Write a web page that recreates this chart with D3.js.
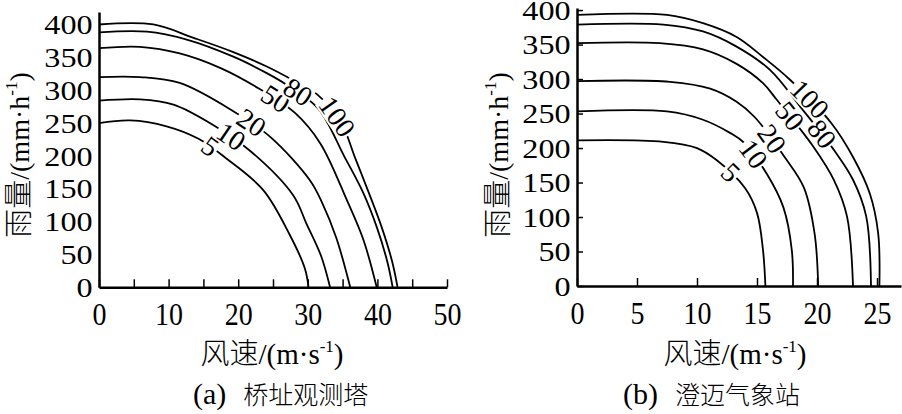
<!DOCTYPE html>
<html>
<head>
<meta charset="utf-8">
<script src="https://cdn.jsdelivr.net/npm/d3@7"></script>
<style>
	body { margin: 0; background: #fff; }
	svg { display: block; }
	text { fill: #000; }
	.num { font-family: "Liberation Serif", "Times New Roman", serif; }
	.cjk { font-family: "Noto Sans CJK SC", sans-serif; font-weight: 300; }
</style>
</head>
<body>
<div id="chartDiv"></div>
<script>
;(function() {

	var width = 902;
	var height = 414;

	// return periods (years)
	var periods = [5, 10, 20, 50, 80, 100];

	// (a) bridge site tower: [wind speed m/s, rain mm/h]
	var tower5 = [[0, 250], [4.5, 254], [9.7, 245], [14.3, 226], [18.3, 196], [23.6, 148], [27.4, 80], [29.6, 28], [30.1, 0]];
	var tower10 = [[0, 284], [5.9, 286], [10.7, 278], [16.4, 247], [21.9, 206], [27.9, 140], [29.8, 97], [31.9, 48], [33.2, 0]];
	var tower20 = [[0, 320], [5.9, 320], [11.6, 311], [19.3, 268], [24.6, 229], [30.3, 163], [32, 130], [34.1, 75], [36.1, 0]];
	var tower50 = [[0, 364], [5.9, 366], [11.6, 356], [17.4, 334], [22.9, 303], [28.2, 265], [31.8, 219], [35.6, 133], [38, 72], [39.9, 0]];
	var tower80 = [[0, 388], [6.9, 389], [12.6, 377], [19.3, 351], [24.1, 326], [27, 308], [31.5, 272], [35.2, 200], [38, 143], [39.9, 92], [41.4, 40], [42.2, 0]];
	var tower100 = [[0, 400], [7.8, 400], [13.5, 380], [19.3, 358], [24.1, 336], [27.9, 315], [31.3, 294], [34.8, 250], [36.8, 197], [38.8, 143], [40.6, 92], [42.1, 40], [42.9, 0]];

	// (b) Chengmai weather station
	var station5 = [[0, 211], [7.2, 209], [10, 200], [11.6, 183], [14, 142], [15, 106], [15.5, 52], [15.7, 0]];
	var station10 = [[0, 253], [7.5, 253], [10.5, 241], [12.75, 222], [13.9, 208], [15.8, 163], [17.2, 114], [17.9, 52], [18, 0]];
	var station20 = [[0, 297], [7.75, 296], [11.1, 286], [13.3, 267], [14.8, 245], [17.3, 187], [18.9, 143], [19.8, 76], [20.1, 0]];
	var station50 = [[0, 352], [6.9, 352], [10.5, 343], [13.3, 322], [15.5, 294], [16.6, 271], [19.7, 202], [21.4, 154], [22.5, 101], [23, 0]];
	var station80 = [[0, 379], [7.2, 379], [10.5, 369], [13.3, 347], [16.1, 313], [18.6, 260], [21.5, 195], [23, 154], [24.1, 101], [24.5, 0]];
	var station100 = [[0, 393], [7.5, 393], [10.5, 381], [13.3, 361], [15.5, 332], [17.75, 299], [21.2, 236], [23, 187], [24.4, 134], [25.1, 76], [25.2, 0]];

	// wind speed where each contour label sits
	var towerLabelSpeed = [16.0, 19.0, 21.9, 25.4, 28.6, 34.2];
	var stationLabelSpeed = [12.8, 14.7, 16.25, 17.75, 20.4, 19.4];

	var towerXTicks = [0, 5, 10, 15, 20, 25, 30, 35, 40, 45, 50];
	var towerXLabels = [0, 10, 20, 30, 40, 50];
	var stationXTicks = [0, 5, 10, 15, 20, 25];
	var rainTicks = [0, 50, 100, 150, 200, 250, 300, 350, 400];

	var svg;

	init();

	function init() {
		svg = d3.select("#chartDiv").append("svg")
			.attr("width", width)
			.attr("height", height);

		drawPanel({
			curves: [tower5, tower10, tower20, tower50, tower80, tower100],
			labelSpeed: towerLabelSpeed,
			xScale: d3.scaleLinear().domain([0, 50]).range([99, 447]),
			yScale: d3.scaleLinear().domain([0, 419]).range([287.3, 12]),
			xTicks: towerXTicks,
			xLabels: towerXLabels,
			yTickSize: 0,
			yTitleX: 29,
			xTitleX: 272,
			caption: "桥址观测塔",
			captionTag: "(a)",
			captionX: 193
		});

		drawPanel({
			curves: [station5, station10, station20, station50, station80, station100],
			labelSpeed: stationLabelSpeed,
			xScale: d3.scaleLinear().domain([0, 27]).range([577, 901]),
			yScale: d3.scaleLinear().domain([0, 403]).range([286, 8]),
			xTicks: stationXTicks,
			xLabels: stationXTicks,
			yTickSize: 6,
			yTitleX: 508,
			xTitleX: 735,
			caption: "澄迈气象站",
			captionTag: "(b)",
			captionX: 623
		});
	}

	function drawPanel(p) {
		var x = p.xScale;
		var y = p.yScale;
		var g = svg.append("g");
		var x0 = x.range()[0];
		var y0 = y(0);

		// x axis, ticks pointing inward
		var xAxis = d3.axisBottom(x)
			.tickValues(p.xTicks)
			.tickSizeInner(-8)
			.tickSizeOuter(0)
			.tickFormat(function(d) { return p.xLabels.indexOf(d) >= 0 ? d : ""; });

		var xg = g.append("g")
			.attr("transform", "translate(0," + y0 + ")")
			.call(xAxis);
		xg.attr("font-size", null).attr("font-family", null);
		xg.select(".domain").attr("stroke-width", 2.5);
		xg.selectAll(".tick line").attr("stroke-width", 1.5);
		xg.selectAll("text")
			.attr("class", "num")
			.style("font-size", "28px")
			.attr("y", 33.6)
			.attr("dy", 0)
			.attr("transform", "scale(1,1.13)");

		// y axis
		var yAxis = d3.axisLeft(y)
			.tickValues(rainTicks)
			.tickSizeInner(-p.yTickSize)
			.tickSizeOuter(0);

		var yg = g.append("g")
			.attr("transform", "translate(" + x0 + ",0)")
			.call(yAxis);
		yg.attr("font-size", null).attr("font-family", null);
		yg.select(".domain").attr("stroke-width", 2.5);
		yg.selectAll(".tick line").attr("stroke-width", 1.5);
		yg.selectAll("text")
			.attr("class", "num")
			.style("font-size", "28px")
			.attr("x", -5.6)
			.attr("dy", "0.33em")
			.attr("transform", "scale(1.15,1)");

		// contour curves
		var line = d3.line()
			.x(function(d) { return x(d[0]); })
			.y(function(d) { return y(d[1]); })
			.curve(d3.curveCatmullRom.alpha(0.5));

		var paths = g.selectAll(".contour")
			.data(p.curves)
			.enter().append("path")
				.attr("class", "contour")
				.attr("d", line)
				.attr("fill", "none")
				.attr("stroke", "#000")
				.attr("stroke-width", 1.8);

		// contour labels on a white box that breaks the lines
		var labels = g.append("g");
		paths.each(function(d, i) {
			var node = this;
			var total = node.getTotalLength();
			var tx = x(p.labelSpeed[i]);
			var best = 0, bestDist = Infinity;
			for (var l = 0; l <= total; l += 0.5) {
				var pt = node.getPointAtLength(l);
				var dist = Math.abs(pt.x - tx);
				if (dist < bestDist) { bestDist = dist; best = l; }
			}
			var c = node.getPointAtLength(best);
			var a = node.getPointAtLength(Math.max(0, best - 6));
			var b = node.getPointAtLength(Math.min(total, best + 6));
			var angle = Math.atan2(b.y - a.y, b.x - a.x) * 180 / Math.PI;

			var lg = labels.append("g")
				.attr("transform", "translate(" + c.x + "," + c.y + ") rotate(" + angle + ")");
			var bg = lg.append("rect").attr("fill", "#fff");
			var t = lg.append("text")
				.attr("class", "num")
				.style("font-size", "28px")
				.attr("text-anchor", "middle")
				.attr("dy", "0.34em")
				.text(periods[i]);
			var box = t.node().getBBox();
			bg.attr("x", box.x - 1)
				.attr("y", box.y + 4)
				.attr("width", box.width + 2)
				.attr("height", box.height - 8);
		});

		// y axis title
		var yt = g.append("text")
			.attr("text-anchor", "middle")
			.attr("transform", "translate(" + p.yTitleX + ",155) rotate(-90)")
			.style("font-size", "28px");
		yt.append("tspan").attr("class", "cjk").style("font-size", "29px").text("雨量");
		yt.append("tspan").attr("class", "num").text("/(mm·h");
		yt.append("tspan").attr("class", "num").style("font-size", "17px").attr("dy", -12).text("-1");
		yt.append("tspan").attr("class", "num").attr("dy", 12).text(")");

		// x axis title
		var xt = g.append("text")
			.attr("text-anchor", "middle")
			.attr("x", p.xTitleX)
			.attr("y", 364)
			.style("font-size", "29px");
		xt.append("tspan").attr("class", "cjk").text("风速");
		xt.append("tspan").attr("class", "num").text("/(m·s");
		xt.append("tspan").attr("class", "num").style("font-size", "17px").attr("dy", -12).text("-1");
		xt.append("tspan").attr("class", "num").attr("dy", 12).text(")");

		// caption
		var ct = g.append("text")
			.attr("x", p.captionX)
			.attr("y", 404)
			.style("font-size", "30px");
		ct.append("tspan").attr("class", "num").text(p.captionTag);
		ct.append("tspan").attr("class", "cjk").attr("dx", 17).style("font-size", "25px").text(p.caption);
	}

})();
</script>
</body>
</html>
